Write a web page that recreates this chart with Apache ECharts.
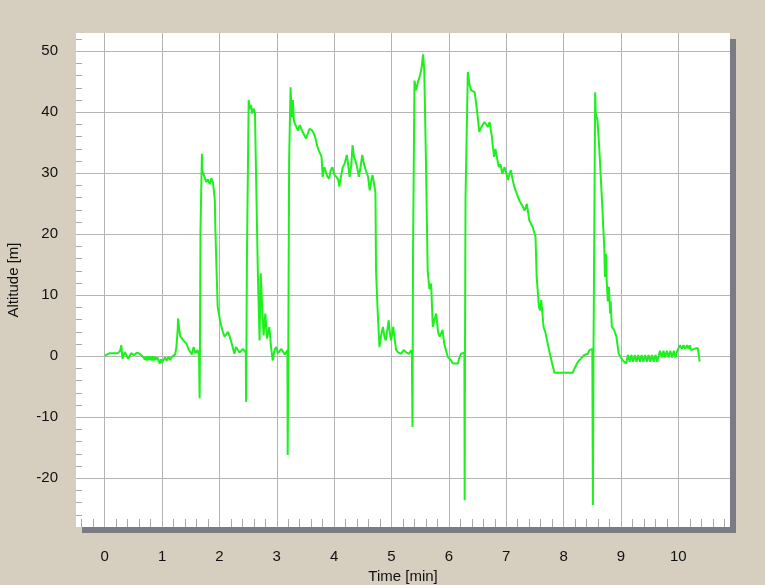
<!DOCTYPE html>
<html>
<head>
<meta charset="utf-8">
<script src="https://cdn.jsdelivr.net/npm/echarts@6/dist/echarts.min.js"></script>
<style>
  html, body { margin: 0; padding: 0; background: #d6cebe; }
  #chart { width: 765px; height: 585px; }
</style>
</head>
<body>
<div id="chart"></div>
<script>
// Time [min]
const times = [
  0, 0.09, 0.23, 0.27, 0.29, 0.31, 0.35, 0.41, 0.46, 0.52, 0.56, 0.61, 0.64, 0.68,
  0.70, 0.72, 0.74, 0.76, 0.78, 0.80, 0.82, 0.84, 0.86, 0.88, 0.90, 0.92,
  0.94, 0.96, 0.98, 1.00, 1.02, 1.05, 1.08, 1.11, 1.14, 1.17, 1.20, 1.23, 1.25, 1.27, 1.28, 1.30,
  1.32, 1.35, 1.39, 1.43, 1.46, 1.48, 1.52, 1.55, 1.58, 1.62, 1.645, 1.655, 1.66, 1.67, 1.695,
  1.70, 1.74, 1.77, 1.80, 1.83, 1.86, 1.89, 1.92, 1.93, 1.95, 1.97, 2.02, 2.06, 2.09, 2.12,
  2.15, 2.17, 2.20, 2.23, 2.26, 2.29, 2.32, 2.35, 2.38, 2.41, 2.44, 2.46, 2.465, 2.47, 2.48,
  2.51, 2.53, 2.55, 2.57, 2.60, 2.62, 2.64, 2.67, 2.70, 2.72, 2.75, 2.77, 2.80, 2.83, 2.87,
  2.90, 2.93, 2.96, 2.99, 3.02, 3.05, 3.08, 3.11, 3.14, 3.17, 3.185, 3.19, 3.20, 3.215, 3.24,
  3.26, 3.28, 3.30, 3.32, 3.34, 3.37, 3.40, 3.45, 3.51, 3.57, 3.62, 3.66, 3.72, 3.78, 3.80,
  3.83, 3.86, 3.88, 3.91, 3.94, 3.97, 4.00, 4.04, 4.07, 4.09, 4.12, 4.15, 4.18, 4.22, 4.25,
  4.27, 4.30, 4.32, 4.35, 4.37, 4.40, 4.43, 4.46, 4.49, 4.52, 4.56, 4.59, 4.62, 4.65, 4.67,
  4.70, 4.72, 4.73, 4.76, 4.79, 4.82, 4.85, 4.88, 4.90, 4.93, 4.95, 4.97, 4.99, 5.01, 5.03,
  5.06, 5.08, 5.12, 5.17, 5.21, 5.26, 5.31, 5.34, 5.355, 5.365, 5.375, 5.40, 5.43, 5.46, 5.49,
  5.52, 5.55, 5.57, 5.60, 5.63, 5.66, 5.69, 5.72, 5.75, 5.78, 5.81, 5.84, 5.89, 5.92, 5.95,
  5.98, 6.01, 6.04, 6.07, 6.12, 6.16, 6.18, 6.21, 6.24, 6.27, 6.275, 6.28, 6.29, 6.33, 6.36,
  6.39, 6.45, 6.49, 6.53, 6.56, 6.59, 6.62, 6.65, 6.68, 6.71, 6.75, 6.77, 6.79, 6.81, 6.83,
  6.87, 6.90, 6.93, 6.97, 7.00, 7.03, 7.06, 7.08, 7.11, 7.14, 7.17, 7.20, 7.23, 7.26, 7.29,
  7.32, 7.36, 7.40, 7.46, 7.51, 7.53, 7.57, 7.59, 7.61, 7.65, 7.68, 7.71, 7.76, 7.80, 7.84,
  8.16, 8.19, 8.22, 8.25, 8.30, 8.36, 8.42, 8.45, 8.48, 8.50, 8.51, 8.52, 8.53, 8.55, 8.56,
  8.59, 8.62, 8.65, 8.68, 8.71, 8.72, 8.74, 8.75, 8.77, 8.79, 8.81, 8.82, 8.84, 8.88, 8.92,
  8.96, 9.03, 9.09, 9.12, 9.15, 9.18, 9.21, 9.24, 9.27, 9.30, 9.33, 9.36, 9.39, 9.42, 9.45,
  9.48, 9.51, 9.54, 9.57, 9.60, 9.63, 9.66, 9.68, 9.71, 9.74, 9.77, 9.80, 9.83, 9.86, 9.89,
  9.92, 9.95, 9.98, 10.01, 10.03, 10.06, 10.09, 10.12, 10.15, 10.18, 10.20, 10.22, 10.25,
  10.30, 10.34, 10.37, 10.372
];
// Altitude [m]
const altitudes = [
  0.1, 0.5, 0.5, 0.9, 1.8, -0.4, 0.7, -0.4, 0.5, 0.2, 0.6, 0.4, 0.6, -0.2,
  -0.6, 0, -0.7, 0, -0.6, -0.1, -0.7, 0, -0.7, -0.1, -0.6, -0.2,
  -0.8, -1.2, -0.5, -1.1, -0.7, -0.2, -0.7, -0.1, -0.6, -0.1, -0.4, 0.3, 1.5, 4.0, 6.2, 4.3,
  3.2, 3.5, 2.4, 2.0, 1.2, 1.0, 0.3, 1.5, 0.5, 1.0, 0, -6.9, 0, 20.7, 33.2,
  30.5, 29.4, 28.6, 29.0, 28.2, 29.2, 28.4, 25.6, 20.7, 14.1, 8.1, 5.4, 4.0, 3.2, 2.9,
  4.0, 3.7, 2.6, 1.5, 0.4, 1.5, 1.2, 0.6, 0.4, 1.2, 1.0, 0.6, -7.5, 0, 16.8,
  42.0, 40.5, 41.2, 39.8, 40.6, 39.8, 28.9, 13.6, 2.6, 13.6, 7.0, 3.4, 7.0, 2.9, 4.8,
  1.5, -0.7, 1.0, 1.5, 0.5, 0.4, 1.2, 1.5, 0.3, 0.2, 1.0, -16.2, 0, 32, 44.1,
  39.2, 42.0, 38.5, 38.2, 37.6, 37.0, 37.9, 36.8, 35.7, 37.3, 37.0, 36.2, 34.0, 32.7, 29.4,
  31.0, 31.0, 29.5, 29.1, 30.5, 31.0, 29.8, 29.4, 29.0, 27.8, 29.5, 31.0, 31.5, 33.0, 31.0,
  29.4, 31.5, 34.6, 32.5, 32.1, 31.0, 29.4, 31.0, 33.0, 31.5, 30.2, 29.5, 27.2, 29.0, 29.7,
  28.0, 26.7, 14.1, 7.0, 1.5, 3.5, 4.8, 3.0, 2.6, 4.5, 5.9, 4.0, 2.6, 3.5, 4.8,
  2.5, 1.0, 0.6, 0.4, 1.0, 0.6, 0.4, 1.0, 0.4, -11.6, 16.9, 45.2, 43.6, 45.0, 45.8,
  47.0, 49.5, 47.0, 32.1, 14.1, 11.0, 11.9, 4.8, 6.0, 7.0, 4.0, 3.2, 4.3, 2.0, 1.0,
  -0.1, -0.4, -0.7, -1.2, -1.2, -1.2, -0.3, 0.4, 0.2, 0.6, -23.6, 0, 26.1, 46.6, 44.5,
  43.6, 43.3, 40.3, 36.8, 37.5, 37.6, 38.4, 38.4, 37.6, 38.4, 36.0, 34.0, 32.7, 34.0, 33.8,
  31.0, 31.5, 29.9, 31.0, 30.0, 28.9, 30.0, 30.5, 29.0, 27.8, 27.0, 26.7, 25.5, 25.6, 24.5,
  23.9, 25.0, 22.3, 21.2, 19.6, 13.0, 8.1, 7.5, 9.2, 4.8, 4.0, 2.6, 0.4, -1.2, -2.7,
  -2.7, -2.0, -1.7, -0.9, -0.4, 0.2, 0.4, 1.0, 0.7, 1.2, -24.4, 0, 14.1, 43.3, 39.8,
  38.7, 34.3, 28.9, 23.4, 17.4, 13.0, 16.8, 12.5, 9.0, 11.4, 7.0, 9.0, 4.8, 4.3, 3.2,
  0.4, -0.7, -1.2, 0.2, -0.9, 0.2, -0.9, 0.2, -0.9, 0.2, -0.9, 0.2, -0.9, 0.2, -0.9,
  0.2, -0.9, 0.2, -0.9, 0.2, -0.9, 0.2, 0.9, -0.2, 0.9, -0.2, 0.9, -0.2, 0.9, -0.2,
  0.9, -0.2, 0.9, 1.2, 1.8, 1.2, 1.8, 1.2, 1.8, 1.2, 1.8, 1.0, 1.3,
  1.3, 1.3, 1.3, -0.9
];

const xLabelValues = [0, 1, 2, 3, 4, 5, 6, 7, 8, 9, 10];
const yLabelValues = [-20, -10, 0, 10, 20, 30, 40, 50];
const xMinorTicks = [
  -0.4, -0.2, 0.2, 0.4, 0.6, 0.8, 1.2, 1.4, 1.6, 1.8, 2.2, 2.4, 2.6, 2.8,
  3.2, 3.4, 3.6, 3.8, 4.2, 4.4, 4.6, 4.8, 5.2, 5.4, 5.6, 5.8, 6.2, 6.4, 6.6, 6.8,
  7.2, 7.4, 7.6, 7.8, 8.2, 8.4, 8.6, 8.8, 9.2, 9.4, 9.6, 9.8, 10.2, 10.4, 10.6, 10.8
];
const yMinorTicks = [
  -26, -24, -22, -18, -16, -14, -12, -8, -6, -4, -2, 2, 4, 6, 8,
  12, 14, 16, 18, 22, 24, 26, 28, 32, 34, 36, 38, 42, 44, 46, 48, 52
];

const seriesData = times.map((t, i) => [t, altitudes[i]]);

const font = 'Liberation Sans, Arial, sans-serif';
const chart = echarts.init(document.getElementById('chart'), null, { renderer: 'canvas' });
chart.setOption({
  animation: false,
  backgroundColor: '#d6cebe',
  grid: {
    left: 76, top: 33, right: 35, bottom: 58,
    containLabel: false,
    outerBoundsMode: 'none',
    show: true,
    backgroundColor: '#ffffff',
    borderWidth: 0,
    shadowColor: '#7b7b83',
    shadowBlur: 0,
    shadowOffsetX: 6,
    shadowOffsetY: 6
  },
  xAxis: [
    {
      type: 'value', min: -0.5, max: 10.9, position: 'bottom',
      axisLine: { show: false, onZero: false },
      axisTick: { show: false, customValues: xLabelValues },
      axisLabel: { customValues: xLabelValues, margin: 22, fontSize: 15, color: '#111', fontFamily: font },
      splitLine: { show: true, lineStyle: { color: '#b4b4b4', width: 1 } },
      name: 'Time [min]', nameLocation: 'middle', nameGap: 38,
      nameTextStyle: { fontSize: 15, color: '#111', fontFamily: font }
    },
    {
      type: 'value', min: -0.5, max: 10.9, position: 'bottom',
      axisLine: { show: false, onZero: false },
      axisTick: { show: true, inside: true, length: 8, customValues: xMinorTicks, lineStyle: { color: '#a8a8a8' } },
      axisLabel: { show: false },
      splitLine: { show: false }
    }
  ],
  yAxis: [
    {
      type: 'value', min: -28, max: 53, position: 'left',
      axisLine: { show: false, onZero: false },
      axisTick: { show: false, customValues: yLabelValues },
      axisLabel: { customValues: yLabelValues, margin: 18, fontSize: 15, color: '#111', fontFamily: font },
      splitLine: { show: true, lineStyle: { color: '#b4b4b4', width: 1 } },
      name: 'Altitude [m]', nameLocation: 'middle', nameGap: 55,
      nameTextStyle: { fontSize: 15, color: '#111', fontFamily: font }
    },
    {
      type: 'value', min: -28, max: 53, position: 'left',
      axisLine: { show: false, onZero: false },
      axisTick: { show: true, inside: true, length: 6, customValues: yMinorTicks, lineStyle: { color: '#a8a8a8' } },
      axisLabel: { show: false },
      splitLine: { show: false }
    }
  ],
  series: [{
    type: 'line',
    xAxisIndex: 0, yAxisIndex: 0,
    data: seriesData,
    showSymbol: false,
    symbol: 'none',
    lineStyle: { color: '#1ef01e', width: 2 },
    silent: true
  }]
});
</script>
</body>
</html>
